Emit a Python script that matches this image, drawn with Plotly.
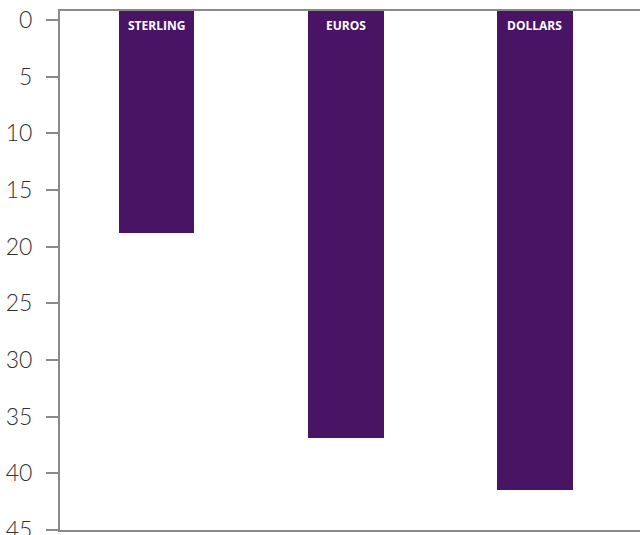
import plotly.graph_objects as go

categories = ["STERLING", "EUROS", "DOLLARS"]
values = [18.8, 36.9, 41.5]
y_ticks = [0, 5, 10, 15, 20, 25, 30, 35, 40, 45]

BASE = -0.79
BAR_COLOR = "#491464"
AXIS_COLOR = "#8a8a8a"

fig = go.Figure()
fig.add_trace(go.Bar(
    x=categories,
    y=[v - BASE for v in values],
    base=[BASE] * len(values),
    marker=dict(color=BAR_COLOR, line=dict(width=0)),
    width=0.4,
    hoverinfo="skip",
))

for c in categories:
    fig.add_annotation(
        x=c, y=BASE, xref="x", yref="y",
        text=f"<b>{c}</b>", showarrow=False,
        yanchor="top", yshift=-4,
        font=dict(family="Open Sans", size=12, color="white", weight=800),
    )

fig.update_layout(
    width=640, height=535,
    margin=dict(l=60, r=0, t=11, b=5),
    paper_bgcolor="white", plot_bgcolor="white",
    showlegend=False,
    bargap=0,
)
fig.update_xaxes(
    type="category",
    range=[-0.51, 2.555],
    showticklabels=False, ticks="",
    showgrid=False, zeroline=False, automargin=False,
    showline=True, linecolor=AXIS_COLOR, linewidth=2, mirror=True,
)
fig.update_yaxes(
    range=[45, BASE],
    tickvals=y_ticks, ticktext=[str(t) for t in y_ticks],
    ticks="outside", ticklen=12, tickwidth=2, tickcolor=AXIS_COLOR,
    ticklabelstandoff=9,
    ticklabeloverflow="allow",
    automargin=False,
    tickfont=dict(family="Lato", size=23, color="#333333", weight=300),
    showgrid=False, zeroline=False,
    showline=True, linecolor=AXIS_COLOR, linewidth=2,
)

fig.write_html("out.html")
